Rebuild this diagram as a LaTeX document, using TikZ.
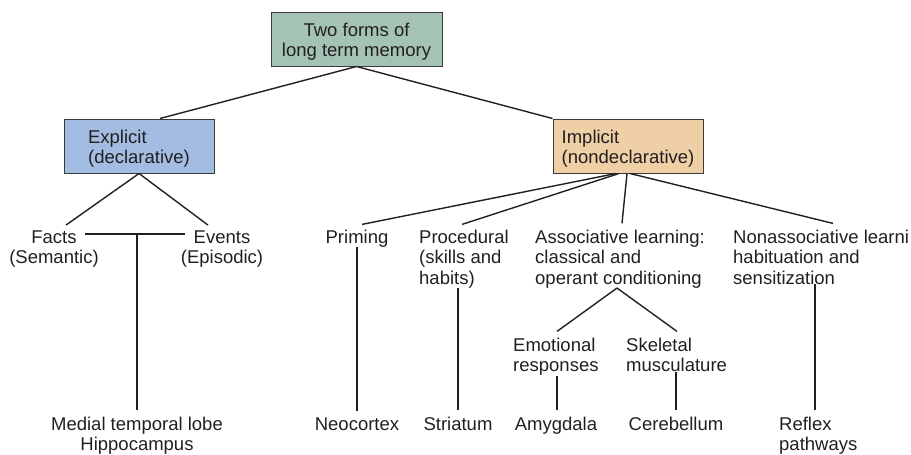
\documentclass[tikz,border=0pt]{standalone}
\usepackage{fontspec}
\setmainfont{Liberation Sans}
\usetikzlibrary{calc}
\definecolor{txt}{HTML}{231F20}
\definecolor{topfill}{HTML}{A4C3B5}
\definecolor{explfill}{HTML}{A3BCE2}
\definecolor{implfill}{HTML}{EECFA6}
\definecolor{boxline}{HTML}{3A3A3A}
\newcommand{\lblfont}{\fontsize{18.5}{20.5}\selectfont}
\begin{document}
\begin{tikzpicture}[x=1pt,y=-1pt,
  tn/.style={inner sep=0pt, text=txt, font=\lblfont},
  box/.style={draw=boxline, line width=1pt, inner sep=0pt, text=txt, font=\lblfont,
    minimum width=150pt, minimum height=54pt, text height=35pt, text depth=0pt},
  con/.style={draw=txt, line width=1.4pt}]
\useasboundingbox (0,0) rectangle (911,455);
% boxes
\node[box, fill=topfill, minimum width=171pt, align=center] (top) at (356.5,39) {Two forms of\\long term memory};
\node[box, fill=explfill, align=left] (expl) at (139,146) {Explicit\\(declarative)};
\node[box, fill=implfill, align=left] (impl) at (628,146) {Implicit\\(nondeclarative)};
% row 1 (anchor = baseline of last line)
\node[tn, align=center, anchor=base] (facts) at (54,263.5) {Facts\\(Semantic)};
\node[tn, align=center, anchor=base] (events) at (222,263.5) {Events\\(Episodic)};
\node[tn, anchor=base] (priming) at (357,243) {Priming};
\node[tn, align=left, anchor=base west] (proc) at (419,284) {Procedural\\(skills and\\habits)};
\node[tn, align=left, anchor=base west] (assoc) at (535,284) {Associative learning:\\classical and\\operant conditioning};
\node[tn, align=left, anchor=base west] (nonassoc) at (733,284) {Nonassociative learni\\habituation and\\sensitization};
% row 2
\node[tn, align=left, anchor=base west] (emo) at (513,371.5) {Emotional\\responses};
\node[tn, align=left, anchor=base west] (skel) at (626,371.5) {Skeletal\\musculature};
% bottom row
\node[tn, align=center, anchor=base] (mtl) at (137,450.5) {Medial temporal lobe\\Hippocampus};
\node[tn, anchor=base] (neo) at (357,430) {Neocortex};
\node[tn, anchor=base] (striatum) at (458,430) {Striatum};
\node[tn, anchor=base] (amy) at (556,430) {Amygdala};
\node[tn, anchor=base] (cere) at (676,430) {Cerebellum};
\node[tn, align=left, anchor=base west] (reflex) at (779,450.5) {Reflex\\pathways};
% connectors
\draw[con] (top.south) -- ($(expl.north)+(21,0)$);
\draw[con] (top.south) -- (impl.north west);
\draw[con] (expl.south) -- ($(facts.north)+(12,-5)$);
\draw[con] (expl.south) -- ($(events.north)+(-14,-5)$);
\coordinate (hl) at (85,234);
\coordinate (hr) at (185,234);
\draw[con] (hl) -- (hr);
\draw[con] (hl -| mtl.north) -- ($(mtl.north)+(0,-6)$);
\draw[con] ($(impl.south)+(-12,0)$) -- ($(priming.north)+(5,-5)$);
\draw[con] ($(impl.south)+(-9,0)$) -- ($(proc.north west)+(43,-5)$);
\draw[con] ($(impl.south)+(-1,0)$) -- ($(assoc.north west)+(87,-6)$);
\draw[con] ($(impl.south)+(2,0)$) -- ($(nonassoc.north west)+(100,-6)$);
\draw[con] (priming.south) -- ($(neo.north)+(0,-6)$);
\draw[con] (proc.south -| striatum.north) -- ($(striatum.north)+(0,-6)$);
\draw[con] ($(assoc.south west)+(82,0)$) -- ($(emo.north west)+(44,-6)$);
\draw[con] ($(assoc.south west)+(82,0)$) -- ($(skel.north west)+(51,-6)$);
\draw[con] ($(emo.south west)+(44,0)$) -- ($(amy.north)+(1,-6)$);
\draw[con] (skel.south -| cere.north) -- ($(cere.north)+(0,-6)$);
\draw[con] ($(nonassoc.south west)+(82,0)$) -- ($(reflex.north west)+(36,-6)$);
\end{tikzpicture}
\end{document}
